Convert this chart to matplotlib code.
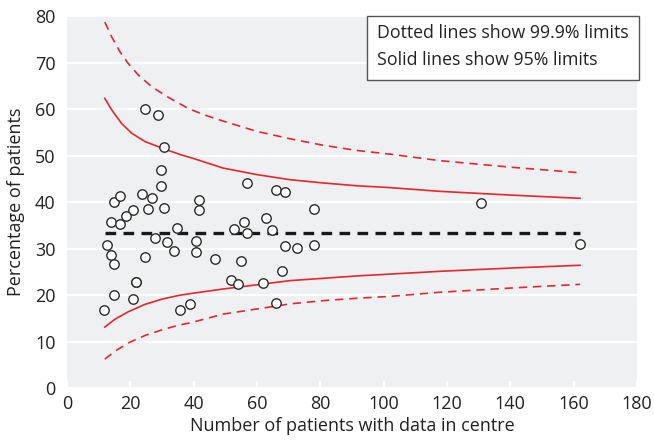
import matplotlib
matplotlib.use('Agg')
import matplotlib.pyplot as plt
from matplotlib.patches import Rectangle

# centre size vs percentage
n_patients = [24.8, 28.7, 30.8, 29.8, 29.8, 14.8, 16.8, 23.8, 26.8, 25.7,
              30.8, 20.8, 18.8, 13.9, 16.8, 41.8, 41.8, 34.7, 12.8, 13.9,
              14.8, 27.8, 31.7, 33.8, 40.8, 40.8, 46.8, 24.8, 21.8, 21.9,
              14.8, 20.8, 11.7, 35.8, 38.9,
              56.9, 66.0, 68.9, 78.0, 55.9, 62.9, 52.8, 56.9, 64.9, 68.9,
              72.8, 78.0, 54.9, 67.9, 51.8, 54.0, 61.9, 66.0,
              130.9, 162.0]
pct_patients = [60.1, 58.8, 51.8, 46.8, 43.4, 40.1, 41.2, 41.7, 40.8, 38.6,
                38.8, 38.2, 36.9, 35.8, 35.3, 40.5, 38.2, 34.4, 30.8, 28.6,
                26.7, 32.2, 31.3, 29.5, 31.7, 29.3, 27.7, 28.1, 22.7, 22.9,
                20.1, 19.1, 16.7, 16.7, 18.0,
                44.0, 42.5, 42.2, 38.5, 35.8, 36.6, 34.1, 33.4, 34.0, 30.5,
                30.2, 30.8, 27.4, 25.1, 23.2, 22.3, 22.6, 18.2,
                39.7, 30.9]

target = 33.3
target_span = [12, 162]

# control limits
n_up95 = [12, 14.2, 17.3, 20.5, 24.7, 30.8, 36.3, 38.9, 49.4, 60, 70.5, 81, 91.5, 102, 117.8, 140, 162]
upper_95 = [62.3, 59.8, 56.9, 54.8, 53.0, 51.4, 50.1, 49.6, 47.3, 45.9, 44.8, 44.1, 43.5, 43.1, 42.3, 41.5, 40.8]
n_up999 = [12, 14.2, 16.8, 19.4, 22.6, 26.8, 32.1, 38.4, 43.6, 49.4, 60, 70.5, 81, 91.5, 102, 117.8, 140, 162]
upper_999 = [78.7, 75.5, 72.3, 69.8, 67.3, 64.8, 62.5, 60.1, 58.7, 57.4, 55.2, 53.6, 52.2, 51.1, 50.3, 48.9, 47.5, 46.3]
n_low = [12, 15.2, 19.4, 24.7, 30, 35.2, 38.9, 49.4, 60, 70.5, 81, 91.5, 102, 117.8, 140, 162]
lower_95 = [13.1, 14.8, 16.4, 18.0, 19.1, 19.9, 20.3, 21.3, 22.2, 23.1, 23.6, 24.1, 24.5, 25.1, 25.8, 26.4]
lower_999 = [6.2, 7.9, 9.7, 11.3, 12.5, 13.5, 14.0, 15.9, 17.0, 18.1, 18.8, 19.3, 19.7, 20.6, 21.5, 22.3]

plt.rcParams['font.family'] = ['Open Sans', 'DejaVu Sans']

fig = plt.figure(figsize=(6.54, 4.46), dpi=100)
ax = fig.add_axes([0.1021, 0.130, 0.872, 0.834])
ax.set_facecolor('#eff0f2')
for s in ax.spines.values():
    s.set_visible(False)

ax.set_xlim(0, 180); ax.set_ylim(0, 80)
ax.set_xticks(range(0, 181, 20)); ax.set_yticks(range(0, 81, 10))
ax.yaxis.grid(True, color='white', lw=1.6)
ax.set_axisbelow(True)
ax.tick_params(axis='x', direction='in', color='white', width=1.6, length=5,
               labelsize=13, labelcolor='#222222', pad=5)
ax.tick_params(axis='y', length=0, labelsize=13, labelcolor='#222222', pad=8)

red = '#e8262d'
ax.plot(n_up95, upper_95, '-', color=red, lw=1.2)
ax.plot(n_low, lower_95, '-', color=red, lw=1.2)
ax.plot(n_up999, upper_999, '--', color=red, lw=1.2, dashes=(5, 3.5))
ax.plot(n_low, lower_999, '--', color=red, lw=1.2, dashes=(5, 3.5))
ax.plot(target_span, [target, target], '--', color='#1a1a1a', lw=2.4, dashes=(3.2, 2.2))

ax.scatter(n_patients, pct_patients, s=46, facecolor='white', edgecolor='#2a2a2a',
           linewidth=1.0, zorder=3)

ax.set_xlabel('Number of patients with data in centre', fontsize=13, color='#222222', labelpad=3)
ax.set_ylabel('Percentage of patients', fontsize=13, color='#222222', labelpad=7)

# key box
W, H = 654.0, 446.0
fig.add_artist(Rectangle((367.3 / W, 1 - 80 / H), 272 / W, 64.3 / H, transform=fig.transFigure,
                         facecolor='white', edgecolor='#555555', lw=1.0, zorder=5))
fig.text(377 / W, 1 - 33 / H, 'Dotted lines show 99.9% limits', fontsize=12.8,
         color='#222222', va='center', ha='left', zorder=6)
fig.text(377 / W, 1 - 60 / H, 'Solid lines show 95% limits', fontsize=12.8,
         color='#222222', va='center', ha='left', zorder=6)

fig.savefig('out.png', dpi=100)
